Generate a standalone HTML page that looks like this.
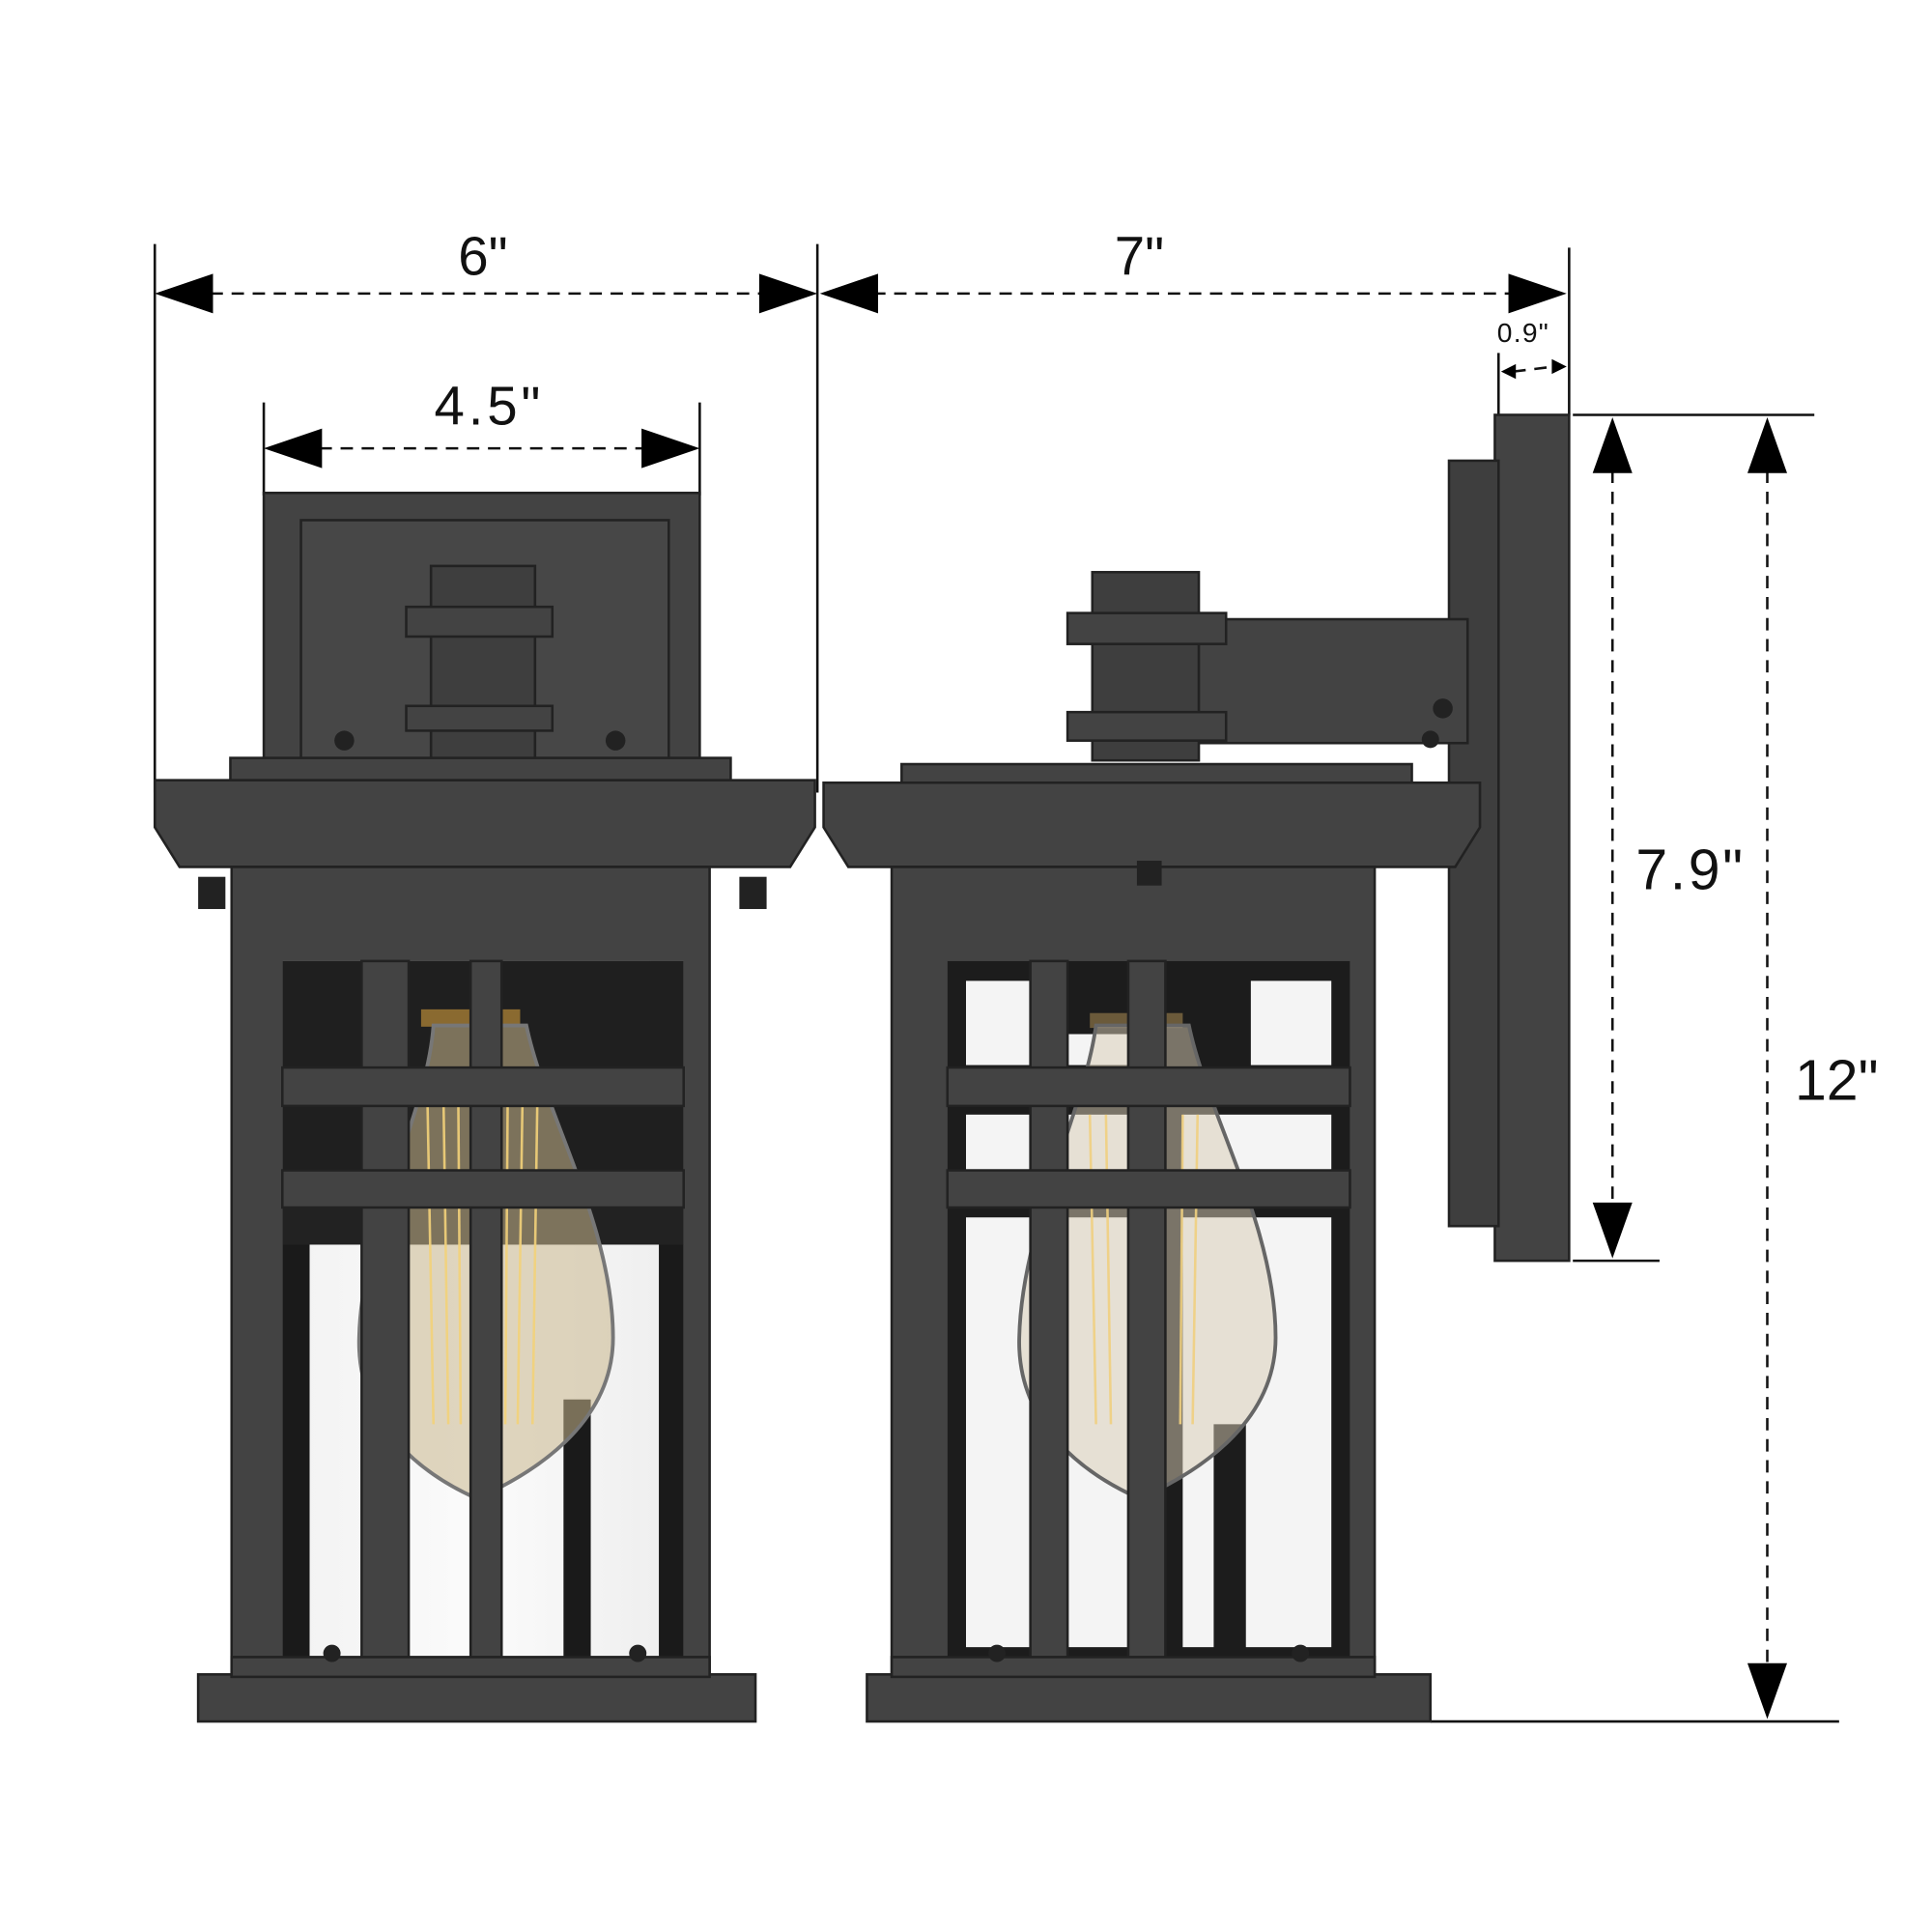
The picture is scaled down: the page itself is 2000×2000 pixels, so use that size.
<!DOCTYPE html>
<html><head><meta charset="utf-8"><style>html,body{margin:0;padding:0;background:#fff;overflow:hidden}svg{display:block}</style></head>
<body>
<svg width="2000" height="2000" viewBox="0 0 1560 1560" xmlns="http://www.w3.org/2000/svg" font-family="Liberation Sans, Arial, sans-serif">
<defs>
<clipPath id="cl"><rect x="228" y="776" width="324" height="564"/></clipPath>
<clipPath id="cr"><rect x="765" y="776" width="325" height="564"/></clipPath>
<linearGradient id="gl" x1="0" x2="1"><stop offset="0" stop-color="#f2f2f2"/><stop offset="0.5" stop-color="#fbfbfb"/><stop offset="1" stop-color="#ededed"/></linearGradient>
</defs>
<rect width="1560" height="1560" fill="#fff"/>
<g stroke="#111" stroke-width="2" fill="none">
<line x1="125" y1="197" x2="125" y2="640"/>
<line x1="660" y1="197" x2="660" y2="640"/>
<line x1="1267" y1="200" x2="1267" y2="335"/>
<line x1="213" y1="325" x2="213" y2="400"/>
<line x1="565" y1="325" x2="565" y2="400"/>
<line x1="1210" y1="285" x2="1210" y2="340"/>
<line x1="1270" y1="335" x2="1465" y2="335"/>
<line x1="1270" y1="1018" x2="1340" y2="1018"/>
<line x1="1155" y1="1390" x2="1485" y2="1390"/>
</g>
<g stroke="#111" stroke-width="2" stroke-dasharray="10,7" fill="none">
<line x1="170" y1="237" x2="615" y2="237"/>
<line x1="705" y1="237" x2="1222" y2="237"/>
<line x1="258" y1="362" x2="520" y2="362"/>
<line x1="1222" y1="300" x2="1255" y2="296"/>
<line x1="1302" y1="380" x2="1302" y2="975"/>
<line x1="1427" y1="380" x2="1427" y2="1345"/>
</g>
<g fill="#000">
<path d="M125,237L172,221L172,253z"/><path d="M660,237L613,221L613,253z"/>
<path d="M662,237L709,221L709,253z"/><path d="M1265,237L1218,221L1218,253z"/>
<path d="M213,362L260,346L260,378z"/><path d="M565,362L518,346L518,378z"/>
<path d="M1212,300L1224,294L1224,306z"/><path d="M1265,296L1253,290L1253,302z"/>
<path d="M1302,337L1286,382L1318,382z"/><path d="M1302,1016L1286,971L1318,971z"/>
<path d="M1427,337L1411,382L1443,382z"/><path d="M1427,1388L1411,1343L1443,1343z"/>
</g>
<g fill="#111">
<text x="390" y="222" font-size="44" text-anchor="middle">6"</text>
<text x="920" y="222" font-size="44" text-anchor="middle">7"</text>
<text x="395" y="343" font-size="44" text-anchor="middle" letter-spacing="3">4.5"</text>
<text x="1230" y="276" font-size="22" text-anchor="middle" letter-spacing="1">0.9"</text>
<text x="1365" y="718" font-size="46" text-anchor="middle" letter-spacing="2">7.9"</text>
<text x="1483" y="888" font-size="46" text-anchor="middle">12"</text>
</g>

<!-- LEFT LAMP -->
<g fill="#434343" stroke="#222" stroke-width="2">
<rect x="213" y="398" width="352" height="216"/>
<rect x="243" y="420" width="297" height="194" fill="#474747"/>
<rect x="348" y="457" width="84" height="157" fill="#3e3e3e"/>
<rect x="328" y="490" width="118" height="24"/>
<rect x="328" y="570" width="118" height="20"/>
<rect x="186" y="612" width="404" height="18"/>
<path d="M125,630H658V668L638,700H145L125,668z"/>
<rect x="187" y="700" width="386" height="655"/>
<rect x="160" y="1352" width="450" height="38"/>
</g>
<g fill="#222"><circle cx="278" cy="598" r="8"/><circle cx="497" cy="598" r="8"/><rect x="160" y="708" width="22" height="26"/><rect x="597" y="708" width="22" height="26"/></g>
<g clip-path="url(#cl)">
<rect x="228" y="776" width="324" height="564" fill="url(#gl)"/>
<rect x="228" y="776" width="324" height="199" fill="#1f1f1f"/>
<rect x="228" y="975" width="22" height="365" fill="#1a1a1a"/>
<rect x="532" y="975" width="20" height="365" fill="#1a1a1a"/>
<rect x="228" y="975" width="324" height="30" fill="#222"/>
<rect x="455" y="1130" width="22" height="210" fill="#1a1a1a"/>
<rect x="340" y="815" width="80" height="14" fill="#8a6a30"/>
<path d="M350,828 C345,900 292,990 290,1080 C288,1150 340,1190 385,1210 C430,1190 495,1150 495,1080 C495,990 440,900 425,828 Z" fill="#c9b68d" fill-opacity="0.55" stroke="#777" stroke-width="3"/>
<g stroke="#f3d27a" stroke-width="2" opacity="0.9"><line x1="345" y1="880" x2="350" y2="1150"/><line x1="358" y1="880" x2="362" y2="1150"/><line x1="370" y1="880" x2="372" y2="1150"/><line x1="410" y1="880" x2="408" y2="1150"/><line x1="422" y1="880" x2="418" y2="1150"/><line x1="434" y1="880" x2="430" y2="1150"/></g>
</g>
<g fill="#434343" stroke="#222" stroke-width="2">
<rect x="292" y="776" width="38" height="564"/>
<rect x="380" y="776" width="25" height="564"/>
<rect x="228" y="862" width="324" height="31"/>
<rect x="228" y="945" width="324" height="30"/>
<rect x="187" y="1338" width="386" height="16"/>
</g>
<g fill="#222"><circle cx="268" cy="1335" r="7"/><circle cx="515" cy="1335" r="7"/></g>

<!-- RIGHT LAMP -->
<g fill="#434343" stroke="#222" stroke-width="2">
<rect x="1207" y="335" width="60" height="683"/>
<rect x="1170" y="372" width="40" height="618" fill="#3e3e3e"/>
<rect x="960" y="500" width="225" height="100"/>
<rect x="882" y="462" width="86" height="152" fill="#3e3e3e"/>
<rect x="862" y="495" width="128" height="25"/>
<rect x="862" y="575" width="128" height="23"/>
<rect x="728" y="617" width="412" height="16"/>
<path d="M665,632H1195V668L1175,700H685L665,668z"/>
<rect x="720" y="700" width="390" height="655"/>
<rect x="700" y="1352" width="455" height="38"/>
</g>
<g fill="#222"><circle cx="1165" cy="572" r="8"/><circle cx="1155" cy="597" r="7"/><rect x="918" y="695" width="20" height="20"/></g>
<g clip-path="url(#cr)">
<rect x="765" y="776" width="325" height="564" fill="#1c1c1c"/>
<g fill="#f4f4f4">
<rect x="780" y="792" width="52" height="68"/>
<rect x="862" y="835" width="49" height="25"/>
<rect x="1010" y="792" width="65" height="68"/>
<rect x="780" y="900" width="52" height="45"/>
<rect x="862" y="900" width="49" height="45"/>
<rect x="955" y="900" width="120" height="45"/>
<rect x="780" y="983" width="52" height="347"/>
<rect x="862" y="983" width="49" height="347"/>
<rect x="955" y="983" width="120" height="347"/>
</g>
<rect x="980" y="1150" width="26" height="190" fill="#1c1c1c"/>
<rect x="880" y="818" width="75" height="12" fill="#6b5a3a"/>
<path d="M885,828 C875,900 825,990 823,1080 C821,1150 875,1190 920,1210 C965,1190 1030,1150 1030,1080 C1030,990 975,900 960,828 Z" fill="#d8ccb4" fill-opacity="0.5" stroke="#666" stroke-width="3"/>
<g stroke="#f0d080" stroke-width="2" opacity="0.9"><line x1="880" y1="900" x2="885" y2="1150"/><line x1="893" y1="900" x2="897" y2="1150"/><line x1="955" y1="900" x2="953" y2="1150"/><line x1="967" y1="900" x2="963" y2="1150"/></g>
</g>
<g fill="#434343" stroke="#222" stroke-width="2">
<rect x="832" y="776" width="30" height="564"/>
<rect x="911" y="776" width="30" height="564"/>
<rect x="765" y="862" width="325" height="31"/>
<rect x="765" y="945" width="325" height="30"/>
<rect x="720" y="1338" width="390" height="16"/>
</g>
<g fill="#222"><circle cx="805" cy="1335" r="7"/><circle cx="1050" cy="1335" r="7"/></g>
</svg>
</body></html>
